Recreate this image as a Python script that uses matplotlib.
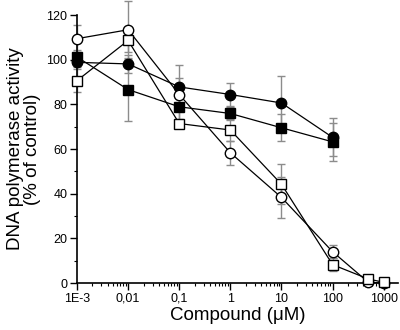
import matplotlib
matplotlib.use("Agg")
import matplotlib.pyplot as plt
import numpy as np

plt.rcParams['font.family'] = ['Liberation Sans', 'DejaVu Sans']

conc_open_circle = [1e-3, 0.01, 0.1, 1, 10, 100, 500, 1000]
open_circle = [109.4, 113.4, 84.4, 58.3, 38.3, 14.0, 0.3, 0.0]
open_circle_err = [6, 13, 13, 5.5, 9, 3, 0.5, 0]

conc_open_square = [1e-3, 0.01, 0.1, 1, 10, 100, 500, 1000]
open_square = [90.6, 108.6, 71.4, 68.5, 44.2, 8.2, 1.8, 0.3]
open_square_err = [5, 5, 2, 5, 9, 3, 1, 0]

conc_filled = [1e-3, 0.01, 0.1, 1, 10, 100]
filled_circle = [98.8, 98.1, 87.8, 84.4, 80.6, 65.2]
filled_circle_err = [2, 4, 4, 5, 12, 8.5]
filled_square = [101.2, 86.6, 78.9, 75.9, 69.5, 63.2]
filled_square_err = [3, 14, 6, 3, 6, 8.5]

xticks = [1e-3, 0.01, 0.1, 1, 10, 100, 1000]
xticklabels = ['1E-3', '0,01', '0,1', '1', '10', '100', '1000']
yticks = [0, 20, 40, 60, 80, 100, 120]

fig = plt.figure(figsize=(4.0, 3.3), dpi=100)
ax = fig.add_axes([77/400, 1-283/330, (398-77)/400, (283-15)/330])

series = [
    (conc_filled, filled_circle, filled_circle_err, 'o', 'black'),
    (conc_filled, filled_square, filled_square_err, 's', 'black'),
    (conc_open_circle, open_circle, open_circle_err, 'o', 'white'),
    (conc_open_square, open_square, open_square_err, 's', 'white'),
]

for x, y, e, m, fc in series:
    eb = ax.errorbar(x, y, yerr=e, fmt='none', ecolor='#8c8c8c', elinewidth=1.0,
                     capsize=3, capthick=1.0, zorder=1)
    for art in eb.lines[1]:
        art.set_clip_on(False)
    for art in eb.lines[2]:
        art.set_clip_on(False)
    ax.plot(x, y, '-', color='black', lw=0.9, zorder=2, clip_on=False)
for x, y, e, m, fc in series:
    ax.plot(x, y, linestyle='none', marker=m, markersize=7.5 if m == 'o' else 7,
            markerfacecolor=fc, markeredgecolor='black', markeredgewidth=1.0,
            zorder=3, clip_on=False)

ax.set_xscale('log')
ax.set_xlim(1e-3, 1900)
ax.set_ylim(0, 120)
ax.set_xticks(xticks)
ax.set_xticklabels(xticklabels)
ax.set_yticks(yticks)
ax.set_yticks([10, 30, 50, 70, 90, 110], minor=True)
ax.xaxis.set_minor_locator(matplotlib.ticker.LogLocator(base=10, subs=np.arange(2, 10)))
ax.xaxis.set_minor_formatter(matplotlib.ticker.NullFormatter())

for s in ['top', 'right']:
    ax.spines[s].set_visible(False)
for s in ['left', 'bottom']:
    ax.spines[s].set_linewidth(1.2)

ax.tick_params(which='major', direction='out', length=5, width=1.0, labelsize=9, pad=2)
ax.tick_params(which='minor', direction='out', length=2.5, width=0.8)

ax.set_xlabel('Compound (\u03bcM)', fontsize=13.5, labelpad=2)
ax.set_ylabel('DNA polymerase activity\n(% of control)', fontsize=13.5, labelpad=4,
              linespacing=1.0)

fig.savefig('out.png', dpi=100)
